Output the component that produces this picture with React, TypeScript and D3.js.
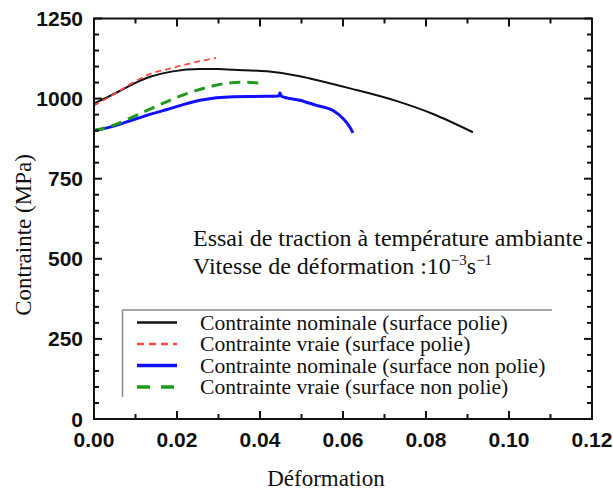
import React from "react";
import * as d3 from "d3";

// Data
const nominalPolie: [number, number][] = [
  [0, 985], [0.003, 1003], [0.0055, 1019], [0.009, 1043], [0.0135, 1068],
  [0.019, 1085], [0.0255, 1092], [0.03, 1092], [0.0335, 1090], [0.0417, 1085],
  [0.0496, 1070], [0.052, 1063], [0.0617, 1032], [0.073, 992], [0.0817, 952],
  [0.0913, 895],
];
const vraiePolie: [number, number][] = [
  [0, 978], [0.005, 1015], [0.0094, 1050], [0.0135, 1077], [0.019, 1096],
  [0.0255, 1117], [0.0294, 1127],
];
const nominalNonPolie: [number, number][] = [
  [0, 900], [0.005, 915], [0.0094, 934], [0.0143, 954], [0.0176, 966],
  [0.0255, 995], [0.0335, 1006], [0.0417, 1007], [0.0445, 1008], [0.0448, 1018],
  [0.0452, 1007], [0.0496, 995], [0.0536, 979], [0.0577, 962], [0.06, 938],
  [0.0617, 910], [0.0624, 893],
];
const vraieNonPolie: [number, number][] = [
  [0, 900], [0.005, 918], [0.0094, 943], [0.0143, 972], [0.02, 1004],
  [0.027, 1034], [0.032, 1048], [0.036, 1051], [0.0396, 1049],
];

const xTicks = [0, 0.02, 0.04, 0.06, 0.08, 0.1, 0.12];
const xMinorTicks = [0.01, 0.03, 0.05, 0.07, 0.09, 0.11];
const yTicks = [0, 250, 500, 750, 1000, 1250];
const yMinorTicks = d3.range(50, 1250, 50).filter((v) => v % 250 !== 0);

const legendLabels = [
  "Contrainte nominale (surface polie)",
  "Contrainte vraie (surface polie)",
  "Contrainte nominale (surface non polie)",
  "Contrainte vraie (surface non polie)",
];

const seriesStyles = [
  { data: nominalPolie, color: "#111111", width: 2, dash: "", legendDash: "" },
  { data: vraiePolie, color: "#ff4a4a", width: 1.8, dash: "6,4", legendDash: "7,5" },
  { data: nominalNonPolie, color: "#1010ff", width: 3, dash: "", legendDash: "" },
  { data: vraieNonPolie, color: "#1f9a1f", width: 3, dash: "11,7", legendDash: "13,11" },
];

const W = 613;
const H = 490;
const L = 94, R = 592, T = 18.5, B = 419;

export default function App() {
  const x = d3.scaleLinear().domain([0, 0.12]).range([L, R]);
  const y = d3.scaleLinear().domain([0, 1250]).range([B, T]);
  const line = d3
    .line<[number, number]>()
    .x((d) => x(d[0]))
    .y((d) => y(d[1]))
    .curve(d3.curveMonotoneX);

  const serif = "'Liberation Serif', 'Times New Roman', serif";
  const sans = "'Liberation Sans', Arial, sans-serif";

  const legendRowY = (i: number) => 322.5 + i * 21.5;

  return (
    <svg
      width={W}
      height={H}
      style={{ position: "absolute", left: 0, top: 0, background: "#fff" }}
    >
      <rect x={0} y={0} width={W} height={H} fill="#fff" />
      {/* curves */}
      {seriesStyles.map((s, i) => (
        <path
          key={i}
          d={line(s.data) || ""}
          fill="none"
          stroke={s.color}
          strokeWidth={s.width}
          strokeDasharray={s.dash || undefined}
          strokeLinejoin="round"
        />
      ))}

      {/* frame */}
      <rect x={L} y={T} width={R - L} height={B - T} fill="none" stroke="#111" strokeWidth={2} />

      {/* x ticks */}
      {xTicks.map((t) => (
        <g key={"xt" + t}>
          <line x1={x(t)} x2={x(t)} y1={B} y2={B - 8} stroke="#111" strokeWidth={2} />
          <line x1={x(t)} x2={x(t)} y1={T} y2={T + 8} stroke="#111" strokeWidth={2} />
          <text
            x={x(t)}
            y={447}
            textAnchor="middle"
            fontFamily={sans}
            fontWeight="bold"
            fontSize={21}
            fill="#111"
          >
            {t.toFixed(2)}
          </text>
        </g>
      ))}
      {xMinorTicks.map((t) => (
        <g key={"xm" + t}>
          <line x1={x(t)} x2={x(t)} y1={B} y2={B - 5} stroke="#111" strokeWidth={2} />
          <line x1={x(t)} x2={x(t)} y1={T} y2={T + 5} stroke="#111" strokeWidth={2} />
        </g>
      ))}

      {/* y ticks */}
      {yTicks.map((t) => (
        <g key={"yt" + t}>
          <line x1={L} x2={L + 8} y1={y(t)} y2={y(t)} stroke="#111" strokeWidth={2} />
          <line x1={R} x2={R - 8} y1={y(t)} y2={y(t)} stroke="#111" strokeWidth={2} />
          <text
            x={83}
            y={y(t)}
            dy="0.36em"
            textAnchor="end"
            fontFamily={sans}
            fontWeight="bold"
            fontSize={21}
            fill="#111"
          >
            {t}
          </text>
        </g>
      ))}
      {yMinorTicks.map((t) => (
        <g key={"ym" + t}>
          <line x1={L} x2={L + 5} y1={y(t)} y2={y(t)} stroke="#111" strokeWidth={2} />
          <line x1={R} x2={R - 5} y1={y(t)} y2={y(t)} stroke="#111" strokeWidth={2} />
        </g>
      ))}

      {/* axis titles */}
      <text x={326} y={486} textAnchor="middle" fontFamily={serif} fontSize={23} fill="#111">
        Déformation
      </text>
      <text
        transform="translate(31,235) rotate(-90)"
        textAnchor="middle"
        fontFamily={serif}
        fontSize={23}
        fill="#111"
      >
        Contrainte (MPa)
      </text>

      {/* annotation */}
      <text x={193} y={246} fontFamily={serif} fontSize={24} fill="#111">
        Essai de traction à température ambiante
      </text>
      <text x={193} y={274} fontFamily={serif} fontSize={24} fill="#111">
        Vitesse de déformation :10
        <tspan dy={-9} fontSize={15}>−3</tspan>
        <tspan dy={9}>s</tspan>
        <tspan dy={-9} fontSize={15}>−1</tspan>
      </text>

      {/* legend */}
      <line x1={122.5} x2={552} y1={310} y2={310} stroke="#8a8a8a" strokeWidth={1.5} />
      <line x1={122.5} x2={122.5} y1={310} y2={397} stroke="#8a8a8a" strokeWidth={1.5} />
      {seriesStyles.map((s, i) => (
        <g key={"lg" + i}>
          <line
            x1={137}
            x2={177}
            y1={legendRowY(i)}
            y2={legendRowY(i)}
            stroke={s.color}
            strokeWidth={s.width + 0.5}
            strokeDasharray={s.legendDash || undefined}
          />
          <text
            x={200}
            y={legendRowY(i)}
            dy="0.33em"
            fontFamily={serif}
            fontSize={21.6}
            fill="#111"
          >
            {legendLabels[i]}
          </text>
        </g>
      ))}
    </svg>
  );
}
